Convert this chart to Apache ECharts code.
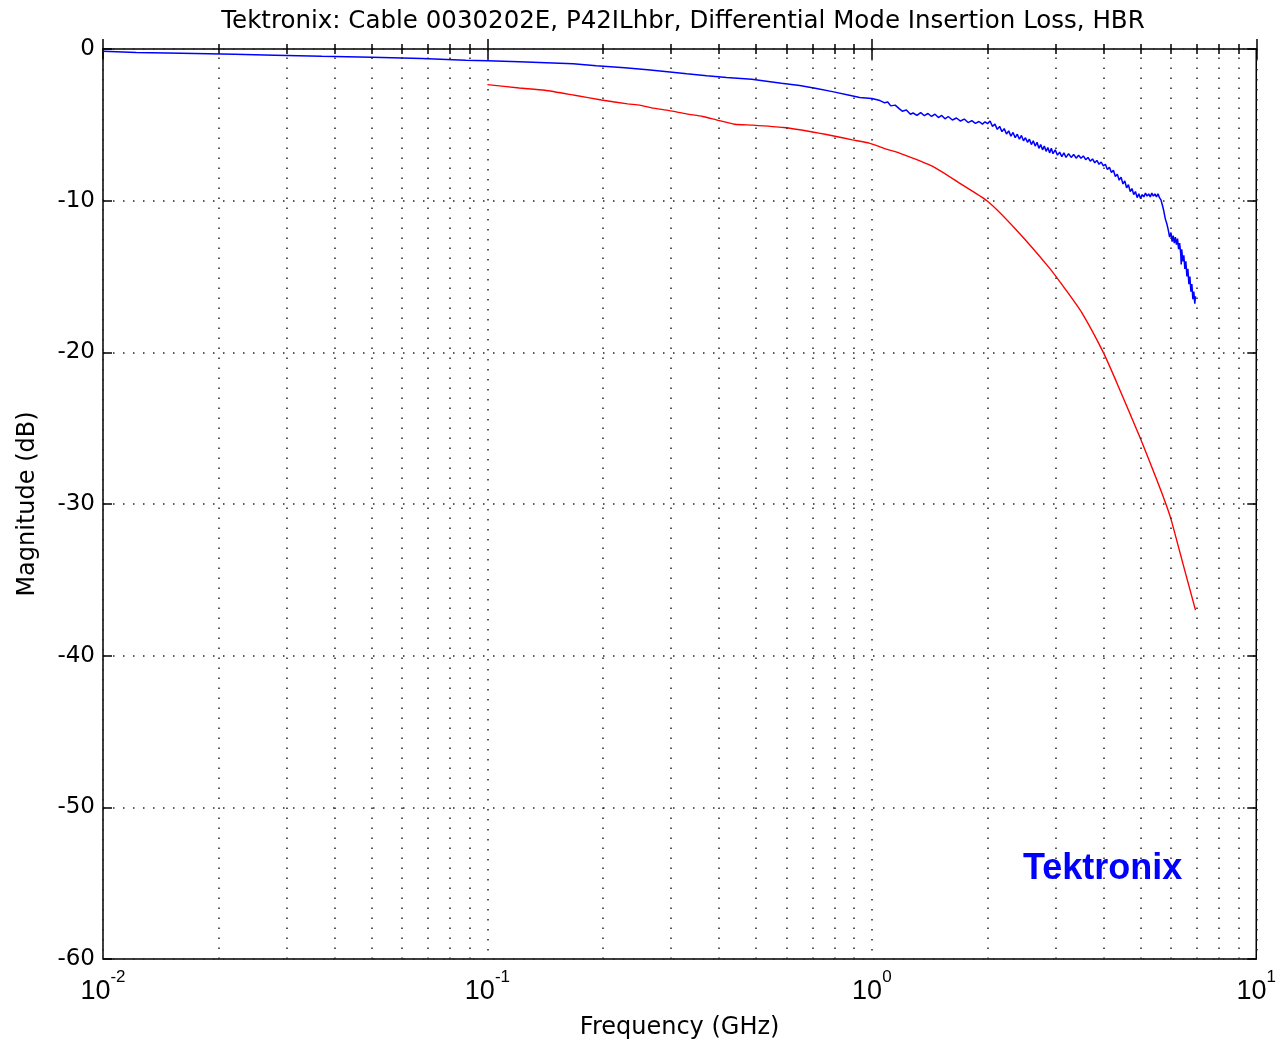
<!DOCTYPE html>
<html>
<head>
<meta charset="utf-8">
<script src="https://cdn.jsdelivr.net/npm/echarts@6/dist/echarts.min.js"></script>
<style>
html,body{margin:0;padding:0;background:#fff;}
#chart{width:1279px;height:1045px;}
</style>
</head>
<body>
<div id="chart"></div>
<script>
const titleText = 'Tektronix: Cable 0030202E, P42ILhbr, Differential Mode Insertion Loss, HBR';
const xAxisName = 'Frequency (GHz)';
const yAxisName = 'Magnitude (dB)';
const brandText = 'Tektronix';

const yTicks = [0, -10, -20, -30, -40, -50, -60];
const decadeTicks = [0.01, 0.1, 1, 10];
const minorFreqs = [0.02,0.03,0.04,0.05,0.06,0.07,0.08,0.09,
                    0.2,0.3,0.4,0.5,0.6,0.7,0.8,0.9,
                    2,3,4,5,6,7,8,9];

// Blue: measured insertion loss (GHz, dB)
const blueFreq = [0.01,0.0122,0.016,0.022,0.028,0.0371,0.05,0.0675,0.0878,0.1,
  0.121,0.167,0.192,0.2275,0.261,0.294,0.33,0.372,0.419,0.487,0.532,0.582,0.649,0.718,0.79,0.874,0.93,1.0,
  1.05,1.08,1.10,1.12,1.15,1.18,1.20,1.23,1.26,1.28,1.31,1.34,1.37,1.40,1.43,1.46,1.49,1.52,1.55,1.58,1.62,1.66,1.70,1.74,1.78,1.82,1.86,1.90,1.94,1.97,
  2.00,2.03,2.06,2.09,2.12,2.15,2.18,2.21,2.24,2.27,2.30,2.33,2.36,2.39,2.42,2.45,2.48,2.51,2.54,2.57,2.60,2.63,2.66,2.69,2.72,2.75,2.78,2.81,2.84,2.87,2.90,2.93,2.96,
  3.00,3.04,3.08,3.12,3.16,3.20,3.25,3.30,3.35,3.40,3.45,3.50,3.55,3.60,3.65,3.70,3.75,3.80,3.85,3.90,3.95,
  4.00,4.05,4.10,4.15,4.20,4.25,4.30,4.35,4.40,4.45,4.50,4.55,4.60,4.65,4.70,4.75,4.80,4.85,4.90,4.95,
  5.00,5.05,5.10,5.15,5.20,5.25,5.30,5.35,5.40,5.45,5.50,5.55,5.60,5.65,5.70,5.75,5.80,5.85,5.90,5.95,
  6.00,6.04,6.08,6.12,6.16,6.20,6.24,6.28,6.32,6.36,6.38,6.40,6.44,6.48,6.52,6.56,6.60,6.64,6.68,6.72,6.76,6.80,6.84,6.88,6.92,6.95];
const blueMag = [-0.15,-0.23,-0.28,-0.35,-0.41,-0.48,-0.55,-0.62,-0.74,-0.78,
  -0.84,-0.97,-1.10,-1.23,-1.37,-1.50,-1.63,-1.76,-1.88,-2.0,-2.13,-2.26,-2.41,-2.6,-2.81,-3.05,-3.2,-3.27,
  -3.40,-3.55,-3.50,-3.75,-3.70,-3.95,-4.10,-4.02,-4.30,-4.22,-4.38,-4.20,-4.40,-4.25,-4.45,-4.30,-4.52,-4.38,-4.60,-4.45,-4.68,-4.55,-4.75,-4.62,-4.85,-4.72,-4.90,-4.78,-4.95,-4.80,
  -4.92,-4.75,-5.10,-4.95,-5.30,-5.10,-5.45,-5.25,-5.60,-5.40,-5.75,-5.50,-5.85,-5.62,-5.95,-5.70,-6.05,-5.85,-6.15,-5.95,-6.30,-6.05,-6.40,-6.15,-6.55,-6.30,-6.65,-6.40,-6.75,-6.50,-6.85,-6.55,-6.90,
  -6.65,-7.00,-6.80,-7.10,-6.85,-7.15,-6.90,-7.15,-6.95,-7.20,-7.00,-7.20,-7.05,-7.30,-7.15,-7.40,-7.25,-7.50,-7.35,-7.60,-7.45,
  -7.70,-7.60,-7.95,-7.80,-8.15,-8.00,-8.40,-8.25,-8.65,-8.45,-8.90,-8.70,-9.15,-8.95,-9.40,-9.20,-9.60,-9.40,-9.80,-9.55,
  -9.85,-9.60,-9.75,-9.50,-9.70,-9.55,-9.75,-9.50,-9.70,-9.55,-9.75,-9.55,-9.80,-9.95,-10.30,-10.70,-11.20,-11.50,-11.90,-12.40,
  -12.10,-12.70,-12.30,-12.80,-12.40,-12.90,-12.50,-13.20,-12.80,-13.50,-14.20,-13.20,-14.00,-13.60,-14.50,-14.00,-15.00,-14.50,-15.50,-15.00,-16.00,-15.50,-16.50,-16.00,-16.80,-16.30];

// Red: model / limit curve (GHz, dB)
const redFreq = [0.1,0.121,0.141,0.1686,0.198,0.2317,0.249,0.2675,0.297,0.33,0.363,0.394,0.44,0.49,0.59,0.69,0.79,0.89,0.985,
  1.09,1.18,1.44,1.69,2.0,2.37,2.895,3.2,3.52,4.0,4.32,5.0,5.53,5.82,6.0,6.44,6.95];
const redMag = [-2.35,-2.57,-2.72,-3.05,-3.36,-3.62,-3.70,-3.88,-4.06,-4.28,-4.45,-4.67,-4.96,-5.02,-5.18,-5.44,-5.72,-5.99,-6.21,
  -6.60,-6.86,-7.74,-8.84,-10.04,-11.9,-14.43,-15.9,-17.4,-20.0,-21.9,-25.7,-28.5,-30.0,-31.0,-33.9,-37.0];

const FONT = 'DejaVu Sans';
const FONT_X = 'Liberation Sans';
const zip = (a, b) => a.map((v, i) => [v, b[i]]);
const dotted = { color: '#222', width: 1.5, type: [1.5, 8.5] };

const chart = echarts.init(document.getElementById('chart'), null, { renderer: 'canvas' });

function logAxis(pos, ticks, len) {
  return {
    type: 'log', logBase: 10, min: 0.01, max: 10, position: pos,
    axisLine: { show: false },
    axisTick: { show: true, inside: true, length: len, lineStyle: { color: '#000', width: 1.5 }, customValues: ticks },
    axisLabel: { show: false },
    splitLine: { show: false },
    minorTick: { show: false }
  };
}

const xMain = {
  type: 'log', logBase: 10, min: 0.01, max: 10, position: 'bottom',
  name: xAxisName, nameLocation: 'middle', nameGap: 57,
  nameTextStyle: { fontFamily: FONT, fontSize: 24, color: '#000' },
  axisLine: { show: false },
  axisTick: { show: true, inside: true, length: 10, lineStyle: { color: '#000', width: 1.5 } },
  axisLabel: {
    show: true, margin: 10, color: '#000',
    formatter: v => '{b|10}{s|' + Math.round(Math.log10(v)) + '}',
    rich: {
      b: { fontFamily: FONT_X, fontSize: 27, color: '#000', verticalAlign: 'bottom', lineHeight: 36 },
      s: { fontFamily: FONT_X, fontSize: 17, color: '#000', verticalAlign: 'top', lineHeight: 36 }
    }
  },
  splitLine: { show: true, lineStyle: dotted },
  minorTick: { show: false }
};

const option = {
  backgroundColor: '#fff',
  animation: false,
  title: {
    text: titleText, left: 678, textAlign: 'center', top: 4,
    textStyle: { fontFamily: FONT, fontSize: 24.5, fontWeight: 'normal', color: '#000' }
  },
  grid: { left: 103, right: 22, top: 49, bottom: 84, show: true, borderColor: '#000', borderWidth: 1.5, backgroundColor: 'transparent' },
  xAxis: [
    xMain,
    logAxis('bottom', minorFreqs, 5),
    logAxis('top', decadeTicks, 10),
    logAxis('top', minorFreqs, 5)
  ],
  yAxis: [
    {
      type: 'value', min: -60, max: 0, interval: 10, position: 'left',
      name: yAxisName, nameLocation: 'middle', nameGap: 63, nameRotate: 90,
      nameTextStyle: { fontFamily: FONT, fontSize: 24, color: '#000' },
      axisLine: { show: false },
      axisTick: { show: true, inside: true, length: 9, lineStyle: { color: '#000', width: 1.5 } },
      axisLabel: { show: true, margin: 8, fontFamily: FONT, fontSize: 23, color: '#000', formatter: v => String(v) },
      splitLine: { show: true, lineStyle: dotted }
    },
    {
      type: 'value', min: -60, max: 0, interval: 10, position: 'right',
      axisLine: { show: false },
      axisTick: { show: true, inside: true, length: 9, lineStyle: { color: '#000', width: 1.5 } },
      axisLabel: { show: false },
      splitLine: { show: false }
    }
  ],
  graphic: [{
    type: 'text', left: 1023, top: 851, z: 10,
    style: { text: brandText, fill: '#0000ff', font: 'bold 36px "Liberation Sans"' }
  }],
  series: [
    {
      name: 'grid', type: 'line', data: [], z: 1, silent: true,
      markLine: {
        silent: true, symbol: ['none', 'none'], animation: false,
        label: { show: false },
        lineStyle: dotted,
        emphasis: { disabled: true },
        data: minorFreqs.map(f => ({ xAxis: f }))
      }
    },
    {
      name: 'Red', type: 'line', data: zip(redFreq, redMag), showSymbol: false, symbol: 'none',
      smooth: 0.2, z: 3,
      lineStyle: { color: '#ff0000', width: 1.4 }
    },
    {
      name: 'Blue', type: 'line', data: zip(blueFreq, blueMag), showSymbol: false, symbol: 'none',
      z: 4,
      lineStyle: { color: '#0000ff', width: 1.5 }
    }
  ]
};
chart.setOption(option);
</script>
</body>
</html>
